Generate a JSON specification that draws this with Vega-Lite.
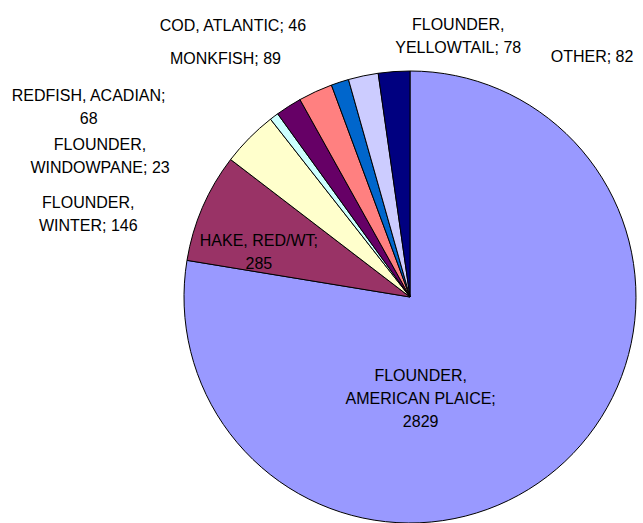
{
  "$schema": "https://vega.github.io/schema/vega-lite/v6.json",
  "width": 452,
  "height": 452,
  "autosize": "none",
  "padding": {"left": 184, "top": 71, "right": 7, "bottom": 0},
  "background": "white",
  "view": {"stroke": null},
  "data": {
    "values": [
      {"seq": 1, "species": "FLOUNDER, AMERICAN PLAICE", "catch": 2829, "label": "FLOUNDER,\nAMERICAN PLAICE;\n2829"},
      {"seq": 2, "species": "HAKE, RED/WT", "catch": 285, "label": "HAKE, RED/WT;\n285"},
      {"seq": 3, "species": "FLOUNDER, WINTER", "catch": 146, "label": "FLOUNDER,\nWINTER; 146"},
      {"seq": 4, "species": "FLOUNDER, WINDOWPANE", "catch": 23, "label": "FLOUNDER,\nWINDOWPANE; 23"},
      {"seq": 5, "species": "REDFISH, ACADIAN", "catch": 68, "label": "REDFISH, ACADIAN;\n68"},
      {"seq": 6, "species": "MONKFISH", "catch": 89, "label": "MONKFISH; 89"},
      {"seq": 7, "species": "COD, ATLANTIC", "catch": 46, "label": "COD, ATLANTIC; 46"},
      {"seq": 8, "species": "FLOUNDER, YELLOWTAIL", "catch": 78, "label": "FLOUNDER,\nYELLOWTAIL; 78"},
      {"seq": 9, "species": "OTHER", "catch": 82, "label": "OTHER; 82"}
    ]
  },
  "encoding": {
    "theta": {"field": "catch", "type": "quantitative", "stack": true},
    "order": {"field": "seq", "type": "quantitative"}
  },
  "layer": [
    {
      "mark": {"type": "arc", "outerRadius": 226, "stroke": "black", "strokeWidth": 1},
      "encoding": {
        "color": {
          "field": "species",
          "type": "nominal",
          "legend": null,
          "scale": {
            "domain": ["FLOUNDER, AMERICAN PLAICE", "HAKE, RED/WT", "FLOUNDER, WINTER", "FLOUNDER, WINDOWPANE", "REDFISH, ACADIAN", "MONKFISH", "COD, ATLANTIC", "FLOUNDER, YELLOWTAIL", "OTHER"],
            "range": ["#9999FF", "#993366", "#FFFFCC", "#CCFFFF", "#660066", "#FF8080", "#0066CC", "#CCCCFF", "#000080"]
          }
        }
      }
    },
    {
      "mark": {
        "type": "text",
        "radius": 120,
        "font": "Liberation Sans",
        "fontSize": 16,
        "lineBreak": "\n",
        "lineHeight": 23,
        "align": "center",
        "baseline": "middle",
        "color": "black",
        "dx": {"expr": "datum.seq == 1 ? -67 : -41"},
        "dy": {"expr": "datum.seq == 1 ? -12 : -8"}
      },
      "encoding": {
        "text": {"condition": {"test": "datum.seq <= 2", "field": "label"}, "value": ""}
      }
    },
    {
      "mark": {
        "type": "text",
        "radius": 226,
        "font": "Liberation Sans",
        "fontSize": 16,
        "lineBreak": "\n",
        "lineHeight": 23,
        "align": "center",
        "baseline": "middle",
        "color": "black",
        "dx": {"expr": "datum.seq == 3 ? -161 : datum.seq == 4 ? -174 : datum.seq == 5 ? -200 : datum.seq == 6 ? -90 : datum.seq == 7 ? -107 : datum.seq == 8 ? 95 : datum.seq == 9 ? 198 : 0"},
        "dy": {"expr": "datum.seq == 3 ? 65 : datum.seq == 4 ? 29 : datum.seq == 5 ? -10 : datum.seq == 6 ? -33 : datum.seq == 7 ? -56 : datum.seq == 8 ? -51 : datum.seq == 9 ? -15 : 0"}
      },
      "encoding": {
        "text": {"condition": {"test": "datum.seq > 2", "field": "label"}, "value": ""}
      }
    }
  ]
}
